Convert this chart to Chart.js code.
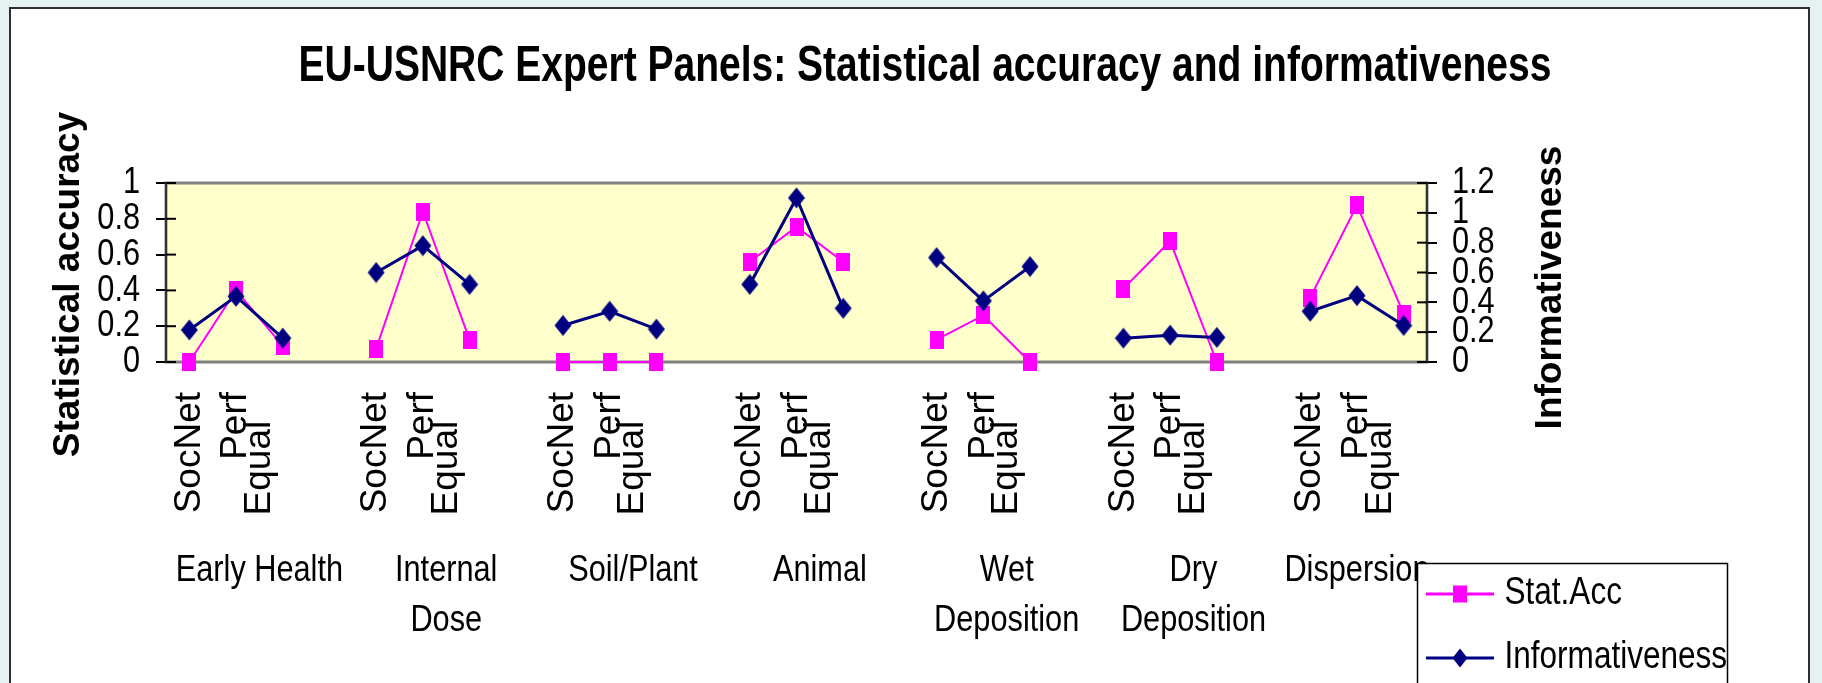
<!DOCTYPE html>
<html><head><meta charset="utf-8">
<script src="https://cdn.jsdelivr.net/npm/chart.js@4.4.1/dist/chart.umd.min.js"></script>
<style>
html,body{margin:0;padding:0;}
body{width:1822px;height:683px;background:#E4F2F2;position:relative;overflow:hidden;}
#frame{position:absolute;left:9px;top:7px;width:1801px;height:720px;background:#fff;border:2px solid #2e2e2e;box-sizing:border-box;}
#c{position:absolute;left:0;top:0;width:1822px;height:683px;}
</style></head><body>
<div id="frame"></div>
<canvas id="c" width="1822" height="683"></canvas>
<script>
// ---------- data ----------
const chartTitle = 'EU-USNRC Expert Panels: Statistical accuracy and informativeness';
const groups = ['Early Health', ['Internal', 'Dose'], 'Soil/Plant', 'Animal', ['Wet', 'Deposition'], ['Dry', 'Deposition'], 'Dispersion'];
const methods = ['SocNet', 'Perf', 'Equal'];
const seriesNames = ['Stat.Acc', 'Informativeness'];
const axisTitles = ['Statistical accuracy', 'Informativeness'];
// values per group, in order SocNet, Perf, Equal
const statAcc = [0.00, 0.40, 0.09, 0.075, 0.84, 0.125, 0.00, 0.00, 0.00, 0.56, 0.755, 0.56, 0.125, 0.26, 0.00, 0.41, 0.675, 0.00, 0.36, 0.875, 0.27];
const informativeness = [0.215, 0.44, 0.16, 0.60, 0.78, 0.52, 0.245, 0.34, 0.22, 0.52, 1.10, 0.36, 0.70, 0.41, 0.64, 0.16, 0.18, 0.165, 0.34, 0.445, 0.245];
const leftTickLabels = ['0', '0.2', '0.4', '0.6', '0.8', '1'];
const rightTickLabels = ['0', '0.2', '0.4', '0.6', '0.8', '1', '1.2'];

// ---------- build category slots (blank slot between groups) ----------
const slotLabels = [], statSlots = [], infoSlots = [], groupCenters = [];
let k = 0;
groups.forEach((g, gi) => {
  const start = slotLabels.length;
  methods.forEach(m => { slotLabels.push(m); statSlots.push(statAcc[k]); infoSlots.push(informativeness[k]); k++; });
  if (gi < groups.length - 1) { slotLabels.push(''); statSlots.push(null); infoSlots.push(null); }
  groupCenters.push((start + slotLabels.length) / 2);
});

// ---------- styles ----------
const REG = '"Liberation Sans", Arial, sans-serif';
const PINK = '#FF00FF', NAVY = '#000080';
// horizontal text in the original is drawn condensed
const CONDENSE = 0.83, CONDENSE_BOLD = 0.78;

const canvas = document.getElementById('c');
const ctx2d = canvas.getContext('2d');
(function () {
  const proto = CanvasRenderingContext2D.prototype;
  const origFill = proto.fillText, origMeasure = proto.measureText;
  const factor = (c) => (/bold/.test(c.font) ? CONDENSE_BOLD : CONDENSE);
  ctx2d.fillText = function (t, x, y, maxW) {
    const m = this.getTransform();
    if (Math.abs(m.b) < 1e-6 && Math.abs(m.c) < 1e-6) {
      const f = factor(this);
      this.save(); this.translate(x, y); this.scale(f, 1);
      if (maxW === undefined) origFill.call(this, t, 0, 0); else origFill.call(this, t, 0, 0, maxW / f);
      this.restore();
    } else {
      if (maxW === undefined) origFill.call(this, t, x, y); else origFill.call(this, t, x, y, maxW);
    }
  };
  ctx2d.measureText = function (t) {
    const r = origMeasure.call(this, t);
    const f = factor(this);
    return { width: r.width * f, actualBoundingBoxAscent: r.actualBoundingBoxAscent, actualBoundingBoxDescent: r.actualBoundingBoxDescent, actualBoundingBoxLeft: r.actualBoundingBoxLeft * f, actualBoundingBoxRight: r.actualBoundingBoxRight * f };
  };
})();

function makeCanvas(w, h, draw) { const c = document.createElement('canvas'); c.width = w; c.height = h; draw(c.getContext('2d'), w, h); return c; }
function square(ctx, cx, cy, w, h) { ctx.fillStyle = PINK; ctx.fillRect(cx - w / 2, cy - h / 2, w, h); }
function diamond(ctx, cx, cy, w, h) { ctx.fillStyle = NAVY; ctx.beginPath(); ctx.moveTo(cx, cy - h / 2); ctx.lineTo(cx + w / 2, cy); ctx.lineTo(cx, cy + h / 2); ctx.lineTo(cx - w / 2, cy); ctx.closePath(); ctx.fill(); }
const pinkMarker = makeCanvas(14, 18, (c, w, h) => square(c, w / 2, h / 2, 14, 18));
const navyMarker = makeCanvas(18, 22, (c, w, h) => diamond(c, w / 2, h / 2, 17, 21));
const legendIcons = [
  makeCanvas(68, 20, (c, w, h) => { c.fillStyle = PINK; c.fillRect(0, h / 2 - 1.5, w, 3); square(c, w / 2, h / 2, 14, 17); }),
  makeCanvas(68, 20, (c, w, h) => { c.fillStyle = NAVY; c.fillRect(0, h / 2 - 1.5, w, 3); diamond(c, w / 2, h / 2, 15, 19); })
];

const framePlugin = {
  id: 'framePlugin',
  afterLayout(chart) {
    const lg = chart.legend;
    lg.left = 1408.5; lg.top = 549; lg.width = 330; lg.height = 200;
    lg.right = lg.left + lg.width; lg.bottom = lg.top + lg.height;
  },
  beforeDraw(chart) {
    const { ctx, chartArea: a } = chart;
    ctx.save();
    ctx.fillStyle = '#FFFFCC';
    ctx.fillRect(a.left, a.top, a.width, a.height);
    ctx.strokeStyle = '#808080'; ctx.lineWidth = 3;
    ctx.strokeRect(a.left, a.top, a.width, a.height);
    ctx.restore();
  },
  beforeDatasetsDraw(chart) {
    const { ctx, chartArea: a, scales } = chart;
    ctx.save(); ctx.strokeStyle = '#000'; ctx.lineWidth = 2;
    scales.y.ticks.forEach(t => { const p = scales.y.getPixelForValue(t.value); ctx.beginPath(); ctx.moveTo(a.left, p); ctx.lineTo(a.left + 10, p); ctx.stroke(); });
    scales.y2.ticks.forEach(t => { const p = scales.y2.getPixelForValue(t.value); ctx.beginPath(); ctx.moveTo(a.right - 10, p); ctx.lineTo(a.right, p); ctx.stroke(); });
    ctx.restore();
  },
  afterDraw(chart) {
    const { ctx, chartArea: a } = chart;
    const cy = (a.top + a.bottom) / 2;
    ctx.save();
    ctx.fillStyle = '#000'; ctx.font = 'bold 37px ' + REG; ctx.textAlign = 'center'; ctx.textBaseline = 'middle';
    ctx.translate(69, cy + 12); ctx.rotate(-Math.PI / 2); ctx.fillText(axisTitles[0], 0, 0);
    ctx.restore();
    ctx.save();
    ctx.fillStyle = '#000'; ctx.font = 'bold 37px ' + REG; ctx.textAlign = 'center'; ctx.textBaseline = 'middle';
    ctx.translate(1551, cy + 15); ctx.rotate(-Math.PI / 2); ctx.fillText(axisTitles[1], 0, 0);
    ctx.restore();
    // legend frame, then legend on top of it
    ctx.save();
    ctx.fillStyle = '#fff'; ctx.fillRect(1417, 563, 311, 140);
    ctx.strokeStyle = '#000'; ctx.lineWidth = 1.5; ctx.strokeRect(1417.5, 563.5, 310, 140);
    ctx.restore();
    chart.legend.draw();
  }
};

new Chart(canvas, {
  type: 'line',
  data: {
    labels: slotLabels,
    datasets: [
      { label: seriesNames[0], data: statSlots, xAxisID: 'x', yAxisID: 'y', borderColor: PINK, backgroundColor: PINK, borderWidth: 2, pointStyle: pinkMarker, pointRadius: 8, spanGaps: false, clip: false, order: 2, tension: 0 },
      { label: seriesNames[1], data: infoSlots, xAxisID: 'x', yAxisID: 'y2', borderColor: NAVY, backgroundColor: NAVY, borderWidth: 3, pointStyle: navyMarker, pointRadius: 8, spanGaps: false, clip: false, order: 1, tension: 0 }
    ]
  },
  options: {
    responsive: false, animation: false, devicePixelRatio: 1,
    events: [],
    layout: { padding: { left: 28, right: 0, top: 0, bottom: 0 } },
    plugins: {
      title: { display: true, text: chartTitle, color: '#000', font: { family: REG, size: 50, weight: 'bold', lineHeight: 1.2 }, padding: { top: 37, bottom: 86 } },
      legend: {
        display: true, position: 'chartArea', align: 'start',
        labels: {
          usePointStyle: true, pointStyleWidth: 51, padding: 26, color: '#000',
          font: { family: REG, size: 38 },
          sort: (a, b) => a.datasetIndex - b.datasetIndex,
          generateLabels: (chart) => {
            const items = Chart.defaults.plugins.legend.labels.generateLabels(chart);
            items.forEach(it => { it.pointStyle = legendIcons[it.datasetIndex]; });
            return items;
          }
        }
      },
      tooltip: { enabled: false }
    },
    scales: {
      x: {
        type: 'category', axis: 'x', position: 'bottom', offset: true, weight: 0,
        grid: { display: false, drawTicks: false }, border: { display: false },
        ticks: {
          autoSkip: false, minRotation: 90, maxRotation: 90, padding: 30, color: '#000',
          font: { family: REG, size: 37, lineHeight: '23.6px' },
          callback: function (v, i) {
            const m = slotLabels[i];
            if (m === methods[1]) return [m, slotLabels[i + 1] + '\u2002 '];
            if (m === methods[2]) return '';
            return m;
          }
        },
        afterFit: s => { s.height = 155; }
      },
      xg: {
        type: 'linear', axis: 'x', position: 'bottom', weight: 1, min: 0, max: slotLabels.length, offset: false,
        grid: { display: false, drawTicks: false }, border: { display: false },
        afterBuildTicks: s => { s.ticks = groupCenters.map(v => ({ value: v })); },
        ticks: { autoSkip: false, minRotation: 0, maxRotation: 0, padding: 29, color: '#000', font: { family: REG, size: 37, lineHeight: '50px' }, callback: (v, i) => groups[i] },
        afterFit: s => { s.height = 166; }
      },
      y: {
        type: 'linear', position: 'left', min: 0, max: 1,
        ticks: { stepSize: 0.2, autoSkip: false, padding: 16, color: '#000', font: { family: REG, size: 37 }, callback: (v, i) => leftTickLabels[i] },
        grid: { drawOnChartArea: false, tickLength: 10, color: '#000', lineWidth: 2 },
        border: { color: '#333', width: 2 },
        afterFit: s => { s.width = 138; }
      },
      y2: {
        type: 'linear', position: 'right', min: 0, max: 1.2,
        ticks: { stepSize: 0.2, autoSkip: false, padding: 15, color: '#000', font: { family: REG, size: 37 }, callback: (v, i) => rightTickLabels[i] },
        grid: { drawOnChartArea: false, tickLength: 10, color: '#000', lineWidth: 2 },
        border: { color: '#333', width: 2 },
        afterFit: s => { s.width = 395; }
      }
    }
  },
  plugins: [framePlugin]
});
</script>
</body></html>
